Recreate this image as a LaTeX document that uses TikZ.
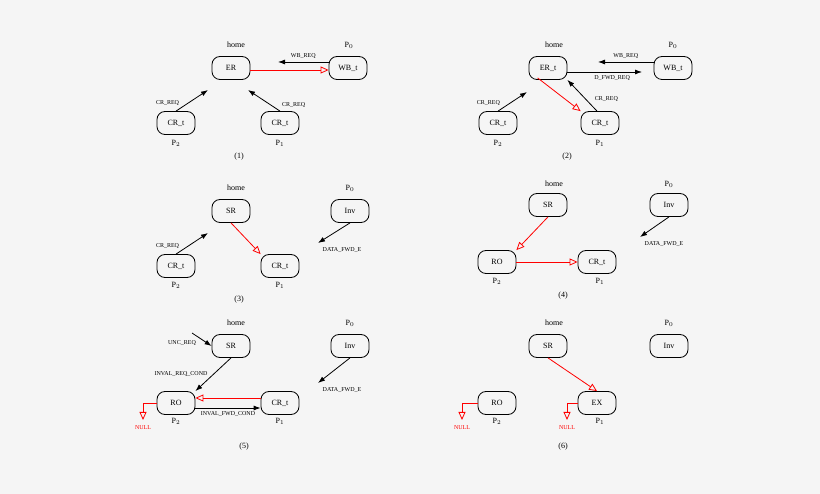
\documentclass[tikz,border=0pt]{standalone}
\usepackage{fontspec}
\setmainfont{Liberation Serif}
\usetikzlibrary{arrows.meta}
\tikzset{
  st/.style={draw,thick,rounded corners=8pt,minimum width=38pt,minimum height=23pt,font=\fontsize{8}{9}\selectfont},
  lbl/.style={font=\fontsize{6}{7}\selectfont},
  tag/.style={font=\fontsize{8}{9}\selectfont},
  msg/.style={thick,-{Latex[length=7pt,width=5pt]}},
  rmsg/.style={red,thick,-{Triangle[open,length=8pt,width=7pt]}}
}
\begin{document}
\begin{tikzpicture}[x=1pt,y=-1pt]
\fill[white!96!black] (0,0) rectangle (820,494);
\useasboundingbox (0,0) rectangle (820,494);
% (1)
\node[st] (er1) at (231,68) {ER};
\node[st] (wb1) at (348,68) {WB\_t};
\node[st] (ca1) at (176,123) {CR\_t};
\node[st] (cb1) at (280,123) {CR\_t};
\node[tag] (h1) at (236,45) {home};
\node[tag] (p01) at (349,45) {P$_0$};
\node[tag] (p21) at (176,143) {P$_2$};
\node[tag] (p11) at (280,143) {P$_1$};
\node[tag] (n1) at (239,157) {(1)};
\coordinate (a1) at (208,90);
\coordinate (b1) at (248,90);
\coordinate (w1) at (278,62);
\draw[msg] (ca1.north) -- (a1) node[lbl,pos=0.4,left=6pt] {CR\_REQ};
\draw[msg] (cb1.north) -- (b1) node[lbl,pos=0.3,right=8pt] {CR\_REQ};
\draw[msg] (wb1.west|-w1) -- (w1) node[lbl,midway,above] {WB\_REQ};
\draw[rmsg] (er1.east|-0,70) -- (wb1.west|-0,70);
% (2)
\node[st] (er2) at (548,68) {ER\_t};
\node[st] (wb2) at (673,68) {WB\_t};
\node[st] (ca2) at (498,123) {CR\_t};
\node[st] (cb2) at (600,123) {CR\_t};
\node[tag] (h2) at (554,45) {home};
\node[tag] (p02) at (673,45) {P$_0$};
\node[tag] (p22) at (498,143) {P$_2$};
\node[tag] (p12) at (600,143) {P$_1$};
\node[tag] (n2) at (567,157) {(2)};
\coordinate (a2) at (527,92);
\coordinate (w2) at (598,62);
\coordinate (d2) at (642,72);
\draw[msg] (ca2.north) -- (a2) node[lbl,pos=0.4,left=6pt] {CR\_REQ};
\draw[msg] (wb2.west|-w2) -- (w2) node[lbl,midway,above] {WB\_REQ};
\draw[msg] (er2.east|-d2) -- (d2) node[lbl,pos=0.6,below] {D\_FWD\_REQ};
\draw[rmsg] (er2.south west)++(9,-2) -- (cb2.north west);
\draw[msg] (cb2.north)++(-3,0) -- (er2.south east) node[lbl,pos=0.4,right=6pt] {CR\_REQ};
% (3)
\node[st] (sr3) at (231,211) {SR};
\node[st] (inv3) at (350,211) {Inv};
\node[st] (ca3) at (176,266) {CR\_t};
\node[st] (cb3) at (280,266) {CR\_t};
\node[tag] (h3) at (236,188) {home};
\node[tag] (p03) at (350,188) {P$_0$};
\node[tag] (p23) at (176,285) {P$_2$};
\node[tag] (p13) at (280,285) {P$_1$};
\node[tag] (n3) at (239,300) {(3)};
\coordinate (a3) at (208,233);
\coordinate (f3) at (318,243);
\draw[msg] (ca3.north) -- (a3) node[lbl,pos=0.4,left=6pt] {CR\_REQ};
\draw[rmsg] (sr3.south) -- (cb3.north west);
\draw[msg] (inv3.south) -- (f3) node[lbl,pos=1,anchor=north,xshift=24pt,yshift=-1pt] {DATA\_FWD\_E};
% (4)
\node[st] (sr4) at (548,205) {SR};
\node[st] (inv4) at (669,205) {Inv};
\node[st] (ro4) at (497,262) {RO};
\node[st] (cb4) at (597,262) {CR\_t};
\node[tag] (h4) at (554,184) {home};
\node[tag] (p04) at (669,184) {P$_0$};
\node[tag] (p24) at (497,281) {P$_2$};
\node[tag] (p14) at (600,281) {P$_1$};
\node[tag] (n4) at (563,296) {(4)};
\coordinate (f4) at (640,237);
\draw[rmsg] (sr4.south) -- (ro4.north east);
\draw[rmsg] (ro4) -- (cb4);
\draw[msg] (inv4.south) -- (f4) node[lbl,pos=1,anchor=north,xshift=24pt,yshift=-1pt] {DATA\_FWD\_E};
% (5)
\node[st] (sr5) at (231,346) {SR};
\node[st] (inv5) at (350,346) {Inv};
\node[st] (ro5) at (176,403) {RO};
\node[st] (cb5) at (280,403) {CR\_t};
\node[tag] (h5) at (236,323) {home};
\node[tag] (p05) at (350,323) {P$_0$};
\node[tag] (p25) at (176,421) {P$_2$};
\node[tag] (p15) at (280,421) {P$_1$};
\node[tag] (n5) at (244,447) {(5)};
\coordinate (u5) at (192,333);
\coordinate (f5) at (318,383);
\coordinate (k5) at (143,403);
\coordinate (z5) at (143,420);
\draw[msg] (u5) -- (sr5.west) node[lbl,pos=0,anchor=north,xshift=-10pt,yshift=-4pt] {UNC\_REQ};
\draw[msg] (sr5.south) -- (ro5.north east) node[lbl,midway,left=2pt] {INVAL\_REQ\_COND};
\draw[rmsg] (cb5.west|-0,398) -- (ro5.east|-0,398);
\draw[msg] (ro5.east|-0,408) -- (cb5.west|-0,408) node[lbl,midway,below] {INVAL\_FWD\_COND};
\draw[rmsg] (ro5.west) -- (k5) -- (z5) node[lbl,below=2pt] {NULL};
\draw[msg] (inv5.south) -- (f5) node[lbl,pos=1,anchor=north,xshift=24pt,yshift=-1pt] {DATA\_FWD\_E};
% (6)
\node[st] (sr6) at (548,346) {SR};
\node[st] (inv6) at (669,346) {Inv};
\node[st] (ro6) at (497,403) {RO};
\node[st] (ex6) at (597,403) {EX};
\node[tag] (h6) at (554,323) {home};
\node[tag] (p06) at (669,323) {P$_0$};
\node[tag] (p26) at (497,421) {P$_2$};
\node[tag] (p16) at (600,421) {P$_1$};
\node[tag] (n6) at (563,447) {(6)};
\coordinate (k6) at (462,403);
\coordinate (z6) at (462,420);
\coordinate (j6) at (567,403);
\coordinate (y6) at (567,420);
\draw[rmsg] (sr6.south) -- (ex6.north);
\draw[rmsg] (ro6.west) -- (k6) -- (z6) node[lbl,below=2pt] {NULL};
\draw[rmsg] (ex6.west) -- (j6) -- (y6) node[lbl,below=2pt] {NULL};
\end{tikzpicture}
\end{document}
